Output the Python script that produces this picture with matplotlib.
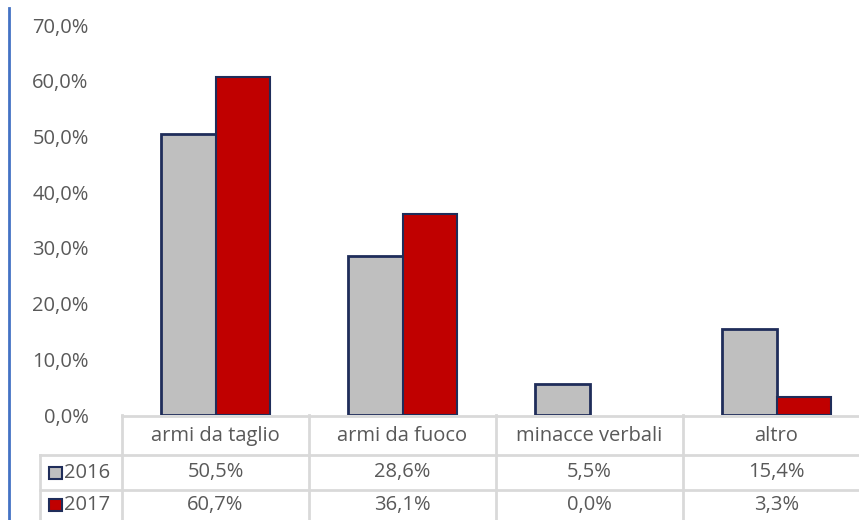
import matplotlib.pyplot as plt
from matplotlib.patches import Rectangle

categories = ['armi da taglio', 'armi da fuoco', 'minacce verbali', 'altro']
years = ['2016', '2017']
values_2016 = [50.5, 28.6, 5.5, 15.4]
values_2017 = [60.7, 36.1, 0.0, 3.3]
yticks = [0, 10, 20, 30, 40, 50, 60, 70]

GRAY = '#bfbfbf'
RED = '#c00000'
EDGE = '#1f2d5a'
TXT = '#595959'
GRID = '#d9d9d9'
FONT = 'Open Sans'
FS = 14.5

W, H = 859, 520
fig = plt.figure(figsize=(W / 100, H / 100), dpi=100)
fig.patch.set_facecolor('white')

# plot area in pixels: x 122..870 (4 categories x 187), y 25..415
left, right, top, bottom = 122, 870, 25, 415
ax = fig.add_axes([left / W, (H - bottom) / H, (right - left) / W, (bottom - top) / H])

x = list(range(len(categories)))
bw = 0.29
ax.bar([i - bw / 2 for i in x], values_2016, width=bw, color=GRAY,
       edgecolor=EDGE, linewidth=[2 if v > 0 else 0 for v in values_2016], zorder=3)
ax.bar([i + bw / 2 for i in x], values_2017, width=bw, color=RED,
       edgecolor=EDGE, linewidth=[1.5 if v > 0 else 0 for v in values_2017], zorder=3)

ax.set_xlim(-0.5, len(categories) - 0.5)
ax.set_ylim(0, 70)
ax.set_yticks(yticks)
ax.set_yticklabels([f'{v:.1f}%'.replace('.', ',') for v in yticks],
                   fontsize=FS, color=TXT, family=FONT)
ax.tick_params(axis='y', length=0, pad=24)
ax.set_xticks([])
for s in ax.spines.values():
    s.set_visible(False)

# data table under the plot
ax_t = fig.add_axes([left / W, 0, (right - left) / W, (H - bottom) / H])
ax_t.set_xlim(-0.5, len(categories) - 0.5)
ax_t.set_ylim(H, bottom)
ax_t.axis('off')

cat_w = (right - left) / len(categories)
x_lab = -0.5 - (left - 40) / cat_w
row_y = [bottom, 455, 490, H]
lw = 2
# horizontal lines
ax_t.plot([-0.5, 3.5], [row_y[0] + 1, row_y[0] + 1], color=GRID, lw=lw, clip_on=False)
for yy in row_y[1:3]:
    ax_t.plot([x_lab, 3.5], [yy, yy], color=GRID, lw=lw, clip_on=False)
# vertical lines
for b in [i - 0.5 for i in range(len(categories) + 1)]:
    ax_t.plot([b, b], [row_y[0], H], color=GRID, lw=lw, clip_on=False)
ax_t.plot([x_lab, x_lab], [row_y[1], H], color=GRID, lw=lw, clip_on=False)

for i, c in enumerate(categories):
    ax_t.text(i, (row_y[0] + row_y[1]) / 2 + 1, c, ha='center', va='center',
              fontsize=FS, color=TXT, family=FONT)
for r, (yr, vals, col) in enumerate([(years[0], values_2016, GRAY), (years[1], values_2017, RED)]):
    yc = (row_y[r + 1] + row_y[r + 2]) / 2
    for i, v in enumerate(vals):
        ax_t.text(i, yc, f'{v:.1f}%'.replace('.', ','), ha='center', va='center',
                  fontsize=FS, color=TXT, family=FONT)
    kx = x_lab + 9 / cat_w
    ax_t.add_patch(Rectangle((kx, yc - 6), 13 / cat_w, 12, facecolor=col,
                             edgecolor=EDGE, lw=1.5, clip_on=False))
    ax_t.text(kx + 15 / cat_w, yc, yr, ha='left', va='center',
              fontsize=FS, color=TXT, family=FONT)

# blue bar on the left edge
fig.add_artist(plt.Line2D([9 / W, 9 / W], [0, 1 - 8 / H], color='#4472c4', lw=2))

plt.savefig('out.png', dpi=100)
